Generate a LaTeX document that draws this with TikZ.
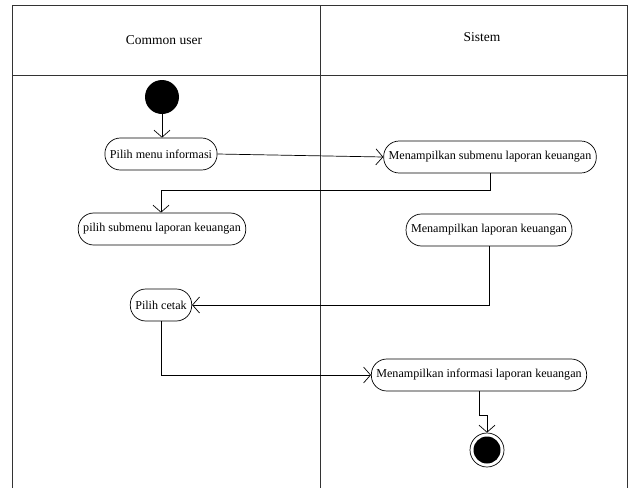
\documentclass[tikz,border=0pt]{standalone}
\usepackage{fontspec}
\setmainfont{Liberation Serif}
\usetikzlibrary{arrows.meta,calc}
\begin{document}
\begin{tikzpicture}[x=1pt,y=-1pt,
  lane/.style={line width=0.8pt,draw=black!80},
  action/.style={draw,rounded corners=15.5pt,minimum height=32pt,inner xsep=5pt,
    font=\fontsize{12.1}{14}\selectfont,line width=0.7pt},
  flow/.style={line width=0.7pt,-{Straight Barb[length=7pt,width=16pt,line width=0.7pt]}},
  lanelabel/.style={font=\fontsize{13.5}{15}\selectfont}]
  \useasboundingbox (0,0) rectangle (630,488);
  % swimlane frame
  \draw[lane] (12,488) -- (12,5) -- (627,5) -- (627,488);
  \draw[lane] (12,75) -- (627,75);
  \draw[lane] (320,5) -- (320,488);
  \node[lanelabel] (lu) at (164,40) {Common user};
  \node[lanelabel] (ls) at (482,37) {Sistem};
  % actions
  \node[fill=black,circle,minimum size=34pt,inner sep=0pt] (start) at (162,97) {};
  \node[action] (pmenu) at (161,154) {Pilih menu informasi};
  \node[action] (msub) at (490,157) {Menampilkan submenu laporan keuangan};
  \node[action] (psub) at (162,229) {pilih submenu laporan keuangan};
  \node[action] (mlap) at (489,230) {Menampilkan laporan keuangan};
  \node[action] (cetak) at (161,305) {Pilih cetak};
  \node[action] (minfo) at (479,375) {Menampilkan informasi laporan keuangan};
  \node[draw,circle,minimum size=34pt,inner sep=0pt,line width=0.7pt] (end) at (487,450) {};
  \node[fill=black,circle,minimum size=27pt,inner sep=0pt] (endin) at (end) {};
  % control flow
  \draw[flow] (start.south) -- (start.south |- pmenu.north);
  \draw[flow] (pmenu.east) -- (msub.west);
  \draw[flow] (msub.south) -- ++(0,17) -| ($(psub.north)+(-1,0)$);
  \draw[flow] (mlap.south) |- (cetak.east);
  \draw[flow] (cetak.south) |- (minfo.west);
  \draw[flow] (minfo.south) -- ++(0,24) -| (end.north);
\end{tikzpicture}
\end{document}
